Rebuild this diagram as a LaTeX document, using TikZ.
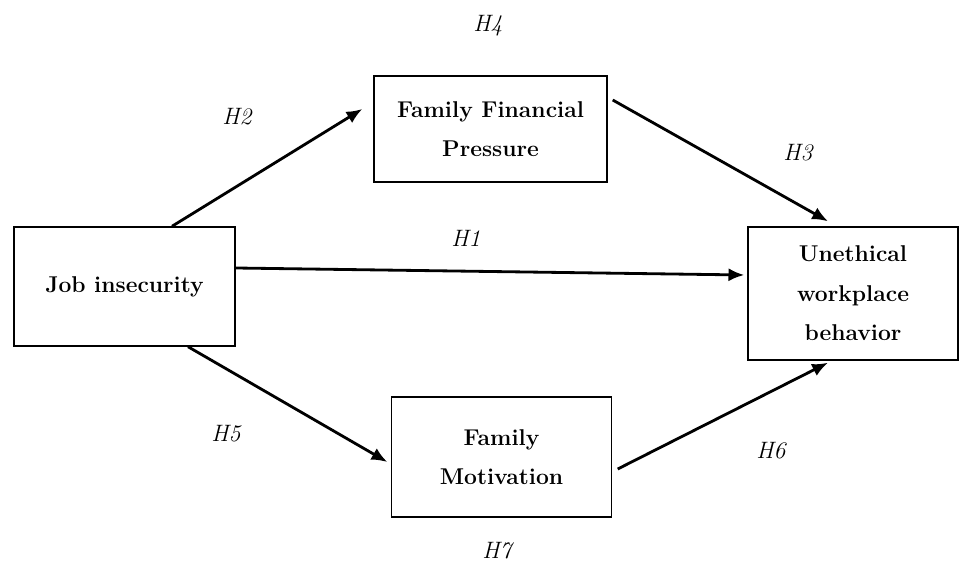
\documentclass[tikz,border=0pt]{standalone}
\usepackage{tikz}
\usetikzlibrary{arrows.meta,calc}

\tikzset{
	varbox/.style={draw, line width=0.8pt, align=center, inner sep=2pt,
		font=\bfseries\fontsize{13}{22.5}\selectfont},
	hyp/.style={font=\itshape\fontsize{13.5}{16}\selectfont},
	path arrow/.style={-{Latex[length=9pt,width=7.5pt]}, line width=1.6pt}
}

\begin{document}
\begin{tikzpicture}
		\useasboundingbox (0,0) rectangle (19.2,-11.3);
		\node[varbox, minimum width=4.42cm, minimum height=2.38cm] (job) at (2.49,-5.73) {Job insecurity};
		\node[varbox, minimum width=4.66cm, minimum height=2.12cm] (ffp) at (9.81,-2.58) {Family Financial\\Pressure};
		\node[varbox, minimum width=4.2cm, minimum height=2.66cm] (uwb) at (17.06,-5.87) {Unethical\\workplace\\behavior};
		\node[varbox, minimum width=4.4cm, minimum height=2.4cm] (fm) at (10.03,-9.14) {Family\\Motivation};
		
		\node[hyp] (h4) at (9.76,-0.52) {H4};
		\node[hyp] (h2) at (4.74,-2.34) {H2};
		\node[hyp] (h3) at (15.96,-3.06) {H3};
		\node[hyp] (h1) at (9.32,-4.76) {H1};
		\node[hyp] (h5) at (4.52,-8.68) {H5};
		\node[hyp] (h6) at (15.42,-9.02) {H6};
		\node[hyp] (h7) at (9.94,-11.02) {H7};
		
		\path[path arrow]
		($(job.north)+(0.95,0)$) edge ($(ffp.west)+(-0.22,0.4)$)
		($(ffp.east)+(0.1,0.58)$) edge ($(uwb.north)+(-0.5,0.1)$)
		($(job.east)+(0,0.37)$) edge ($(uwb.west)+(-0.06,0.37)$)
		($(job.south)+(1.27,0)$) edge ($(fm.west)+(-0.07,-0.1)$)
		($(fm.east)+(0.11,-0.24)$) edge ($(uwb.south)+(-0.5,-0.04)$)
		;
	\end{tikzpicture}
\end{document}
